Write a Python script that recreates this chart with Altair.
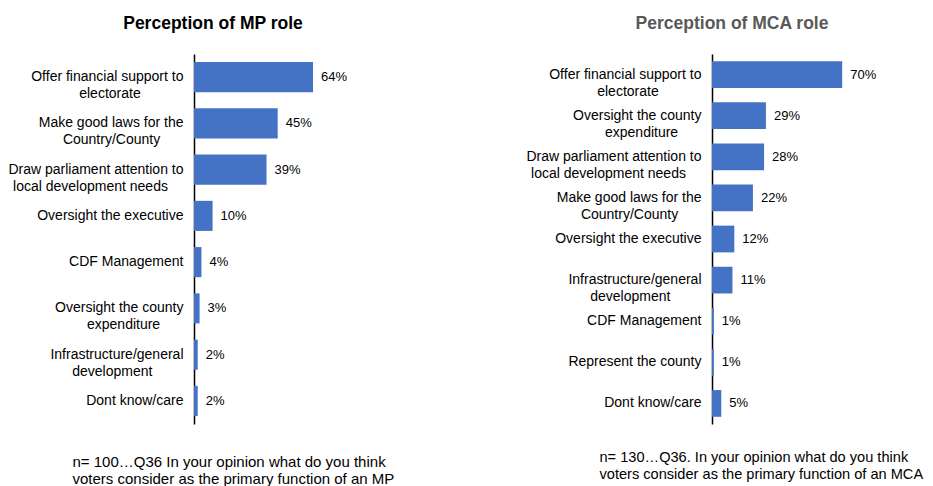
import altair as alt
import pandas as pd

# ---- data ----
mp_roles = [
    "Offer financial support to|electorate",
    "Make good laws for the|Country/County",
    "Draw parliament attention to|local development needs",
    "Oversight the executive",
    "CDF Management",
    "Oversight the county|expenditure",
    "Infrastructure/general|development",
    "Dont know/care",
]
mp_values = [64, 45, 39, 10, 4, 3, 2, 2]

mca_roles = [
    "Offer financial support to|electorate",
    "Oversight the county|expenditure",
    "Draw parliament attention to|local development needs",
    "Make good laws for the|Country/County",
    "Oversight the executive",
    "Infrastructure/general|development",
    "CDF Management",
    "Represent the county",
    "Dont know/care",
]
mca_values = [70, 29, 28, 22, 12, 11, 1, 1, 5]

mp_title = "Perception of MP role"
mca_title = "Perception of MCA role"
mp_note = ["n= 100\u2026Q36 In your opinion what do you think",
           "voters consider as the primary function of an MP"]
mca_note = ["n= 130\u2026Q36. In your opinion what do you think",
            "voters consider as the primary function of an MCA"]

FONT = "Liberation Sans"
BAR = "#4472C4"

# centre the second line of a two-line label under the first one
L1 = "split(datum.label, '|')[0]"
L2 = "split(datum.label, '|')[1]"
LABEL_EXPR = (
    f"indexof(datum.label, '|') < 0 ? datum.label : "
    f"[{L1}, pad({L2}, length({L2}) + round(0.7*(length({L1}) - length({L2}))), '\u00a0') + '\u200b']"
)


def panel(roles, values, title, title_color, title_dx, note, note_x, note_y, note_size):
    df = pd.DataFrame({"role": roles, "pct": values})
    base = alt.Chart(df).encode(
        y=alt.Y(
            "role:N",
            sort=roles,
            scale=alt.Scale(paddingInner=0.35),
            axis=alt.Axis(
                title=None, ticks=False, labelExpr=LABEL_EXPR, labelFont=FONT,
                labelFontSize=14, labelColor="black", labelLineHeight=17,
                labelPadding=11, labelLimit=0, domainColor="black", domainWidth=1.5,
            ),
        ),
        x=alt.X(
            "pct:Q",
            scale=alt.Scale(domain=[0, 100]),
            axis=alt.Axis(
                title=note, domain=False, ticks=False, labels=False, grid=False,
                titleFont=FONT, titleFontSize=note_size, titleFontWeight="normal",
                titleColor="black", titleAnchor="start", titleAlign="left",
                titleX=note_x, titleY=note_y, titleBaseline="alphabetic",
                titleLineHeight=17,
            ),
        ),
    )
    bars = base.mark_bar(color=BAR)
    text = base.transform_calculate(lbl="datum.pct + '%'").mark_text(
        align="left", baseline="middle", dx=8, font=FONT, fontSize=13, color="black"
    ).encode(text="lbl:N")
    return alt.layer(bars, text).properties(
        width=186,
        height=370,
        title=alt.TitleParams(
            text=title, anchor="middle", frame="group", dx=title_dx,
            font=FONT, fontSize=17.5, fontWeight="bold", color=title_color, offset=22,
        ),
    )


left = panel(mp_roles, mp_values, mp_title, "black", -74, mp_note, -122, 42, 15)
right = panel(mca_roles, mca_values, mca_title, "#595959", -73, mca_note, -113, 37, 14.6)

chart = alt.hconcat(left, right, spacing=332, bounds="flush").properties(
    autosize=alt.AutoSizeParams(type="none"),
    padding={"left": 186, "top": 46, "right": 731, "bottom": 424},
).configure(background="white").configure_view(stroke=None)

chart.save("out.html", embed_options={"renderer": "svg", "actions": False})
